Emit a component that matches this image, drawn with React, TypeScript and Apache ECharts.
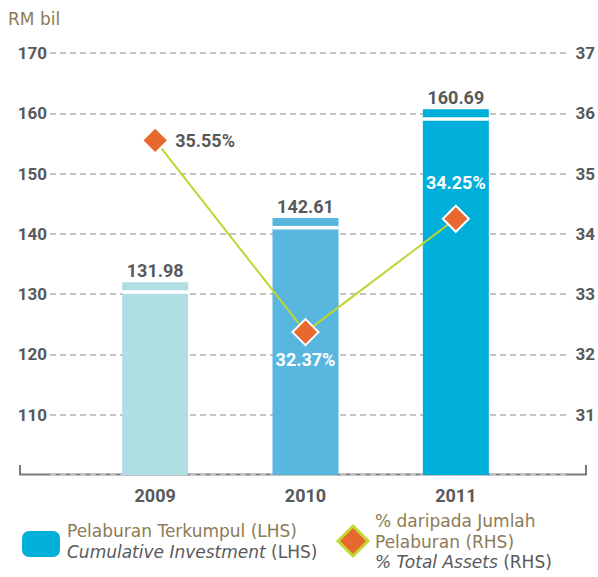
import React, { useEffect, useRef } from "react";
import * as echarts from "echarts";

const years = ["2009", "2010", "2011"];
const investment = [131.98, 142.61, 160.69];
const pctTotalAssets = [35.55, 32.37, 34.25];
const barColors = ["#b0dee5", "#59b6df", "#00b0da"];
const leftTicks = { min: 100, max: 170, interval: 10 };
const rightTicks = { min: 30, max: 37, interval: 1 };

const FONT = "Roboto, 'DejaVu Sans', sans-serif";
const LFONT = "'DejaVu Sans', Roboto, sans-serif";
const DARK = "#58595b";
const OLIVE = "#8b7b56";

export default function App() {
  const ref = useRef<HTMLDivElement>(null);
  useEffect(() => {
    if (!ref.current) return;
    const chart = echarts.init(ref.current, undefined, { renderer: "svg" });
    const labelPos = ["right", "bottom", "top"];
    const labelDist = [6, 4, 13];
    const labelColor = [DARK, "#ffffff", "#ffffff"];
    const rich = {
      i: { fill: DARK, fontSize: 17, fontStyle: "italic", fontFamily: LFONT, lineHeight: 17 },
      d: { fill: DARK, fontSize: 17, fontFamily: LFONT, lineHeight: 17 },
    };
    const legendLine = (x: number, y: number, text: string, mixed: boolean) => ({
      type: "text",
      x,
      y,
      style: mixed
        ? { text, rich, fontFamily: LFONT, fontSize: 17, lineHeight: 17, verticalAlign: "middle" }
        : { text, fill: OLIVE, fontFamily: LFONT, fontSize: 17, lineHeight: 17, verticalAlign: "middle" },
    });
    const option: any = {
      animation: false,
      backgroundColor: "#ffffff",
      textStyle: { fontFamily: FONT },
      grid: [
        { left: 50, right: 28, top: 53, bottom: 102 },
        { left: 80, right: 67, top: 53, bottom: 102 },
      ],
      xAxis: [
        { gridIndex: 0, type: "category", data: years, show: false },
        {
          gridIndex: 1,
          type: "category",
          data: years,
          axisLine: { show: false },
          axisTick: { show: false },
          axisLabel: { color: DARK, fontSize: 18, fontWeight: "bold", margin: 11, fontFamily: FONT },
        },
      ],
      yAxis: [
        {
          gridIndex: 0,
          type: "value",
          position: "left",
          ...leftTicks,
          axisLine: { show: false },
          axisTick: { show: false },
          axisLabel: { color: DARK, fontSize: 17, fontWeight: "bold", margin: 3, showMinLabel: false, fontFamily: FONT },
          splitLine: { show: true, lineStyle: { color: "#c4c4c4", width: 2, type: [6, 4] } },
        },
        {
          gridIndex: 0,
          type: "value",
          position: "right",
          ...rightTicks,
          axisLine: { show: false },
          axisTick: { show: false },
          axisLabel: { color: DARK, fontSize: 17, fontWeight: "bold", margin: 6, showMinLabel: false, fontFamily: FONT },
          splitLine: { show: false },
        },
        { gridIndex: 1, type: "value", ...leftTicks, show: false, splitLine: { show: false } },
        { gridIndex: 1, type: "value", ...rightTicks, show: false, splitLine: { show: false } },
      ],
      series: [
        {
          type: "bar",
          xAxisIndex: 1,
          yAxisIndex: 2,
          barWidth: 66,
          data: investment.map((v, i) => ({ value: v, itemStyle: { color: barColors[i] } })),
          label: {
            show: true,
            position: "top",
            distance: 3,
            color: DARK,
            fontSize: 18,
            fontWeight: "bold",
            fontFamily: FONT,
            formatter: (p: any) => p.value.toFixed(2),
          },
          z: 2,
        },
        {
          type: "custom",
          xAxisIndex: 1,
          yAxisIndex: 2,
          data: investment.map((v, i) => [i, v]),
          renderItem: (params: any, api: any) => {
            const p = api.coord([api.value(0), api.value(1)]);
            return {
              type: "rect",
              shape: { x: p[0] - 33, y: p[1] + 8, width: 66, height: 3.5 },
              style: { fill: "#ffffff" },
            };
          },
          z: 3,
        },
        {
          type: "line",
          xAxisIndex: 1,
          yAxisIndex: 3,
          symbol: "diamond",
          symbolSize: 26,
          lineStyle: { color: "#bdd632", width: 2 },
          itemStyle: { color: "#e8692f", borderColor: "#ffffff", borderWidth: 2 },
          data: pctTotalAssets.map((v, i) => ({
            value: v,
            label: {
              show: true,
              position: labelPos[i],
              distance: labelDist[i],
              color: labelColor[i],
              fontSize: 18,
              fontWeight: "bold",
              fontFamily: FONT,
              formatter: (p: any) => p.value.toFixed(2) + "%",
            },
          })),
          z: 5,
        },
      ],
      graphic: [
        {
          type: "text",
          left: 8,
          top: 10,
          style: { text: "RM bil", fill: OLIVE, fontSize: 17, fontFamily: LFONT },
        },
        {
          type: "polyline",
          shape: { points: [[20, 465], [20, 474.5], [586, 474.5], [586, 465]] },
          style: { stroke: "#7a7a7a", lineWidth: 2, fill: null },
        },
        {
          type: "rect",
          shape: { x: 22, y: 531, width: 38, height: 26, r: 7 },
          style: { fill: "#00b0da" },
        },
        legendLine(67, 531, "Pelaburan Terkumpul (LHS)", false),
        legendLine(67, 551.5, "{i|Cumulative Investment} {d|(LHS)}", true),
        {
          type: "polygon",
          shape: { points: [[353, 526], [368, 541], [353, 556], [338, 541]] },
          style: { fill: "#e8692f", stroke: "#c4d832", lineWidth: 3 },
        },
        legendLine(375, 521, "% daripada Jumlah", false),
        legendLine(375, 541.5, "Pelaburan (RHS)", false),
        legendLine(375, 562, "{i|% Total Assets} {d|(RHS)}", true),
      ],
    };
    chart.setOption(option);
    return () => chart.dispose();
  }, []);
  return (
    <div
      ref={ref}
      style={{ position: "fixed", left: 0, top: 0, width: 598, height: 577, background: "#fff" }}
    />
  );
}
